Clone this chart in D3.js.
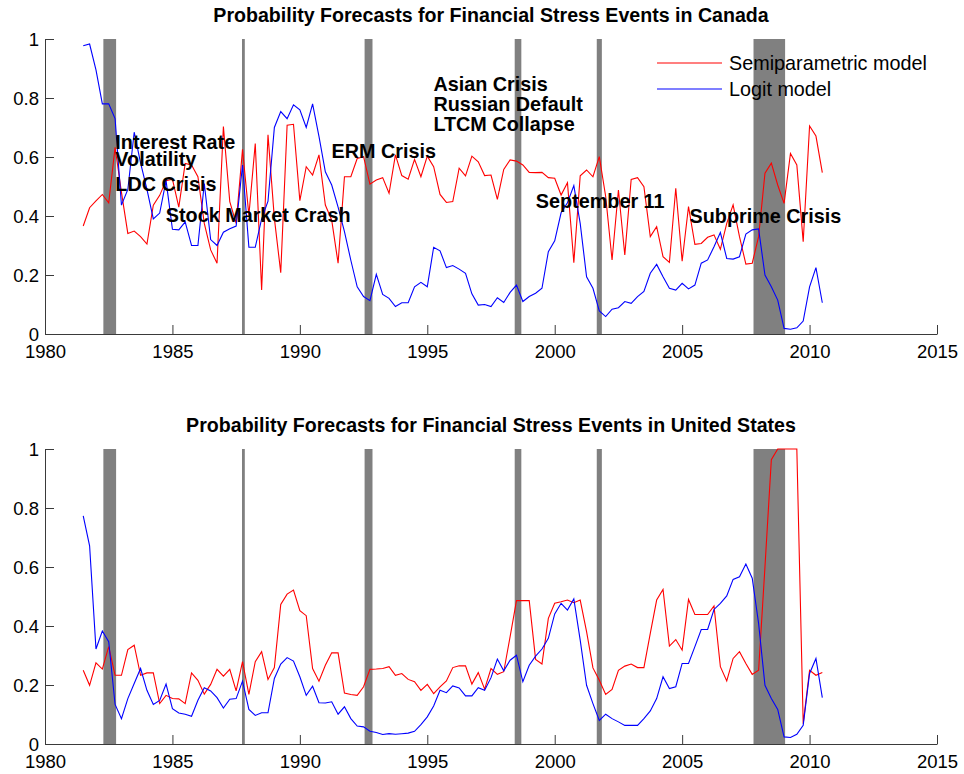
<!DOCTYPE html>
<html>
<head>
<meta charset="utf-8">
<script src="https://cdn.jsdelivr.net/npm/d3@7"></script>
<style>
  html, body { margin: 0; padding: 0; background: #fff; }
  svg { display: block; font-family: "Liberation Sans", Arial, Helvetica, sans-serif; }
</style>
</head>
<body>
<svg id="chart" width="964" height="774"></svg>
<script>
// ---------------- DATA ----------------
const startYear = 1981.5;           // first quarterly observation
const quarterStep = 0.25;

// Canada
const canadaSemiparametric = [
  0.366, 0.428, 0.451, 0.473, 0.445, 0.633, 0.48, 0.341, 0.349, 0.33,
  0.305, 0.437, 0.47, 0.52, 0.525, 0.43, 0.578, 0.573, 0.533, 0.375,
  0.285, 0.24, 0.703, 0.449, 0.375, 0.626, 0.403, 0.646, 0.149, 0.675,
  0.392, 0.208, 0.708, 0.711, 0.452, 0.567, 0.539, 0.607, 0.437, 0.386,
  0.24, 0.533, 0.533, 0.595,
  0.601, 0.508, 0.522, 0.53, 0.477, 0.607, 0.537, 0.525, 0.592, 0.533,
  0.603, 0.567, 0.473, 0.446, 0.449, 0.562, 0.536, 0.603, 0.584, 0.537,
  0.539, 0.456, 0.558, 0.59, 0.586, 0.573, 0.548, 0.547, 0.548, 0.53,
  0.528, 0.471, 0.513, 0.242, 0.536, 0.556, 0.533, 0.601, 0.466, 0.251,
  0.488,
  0.268, 0.524, 0.53, 0.499, 0.33, 0.364, 0.262, 0.243, 0.494, 0.247,
  0.432, 0.304, 0.307, 0.328, 0.336, 0.287, 0.375, 0.438, 0.33, 0.237,
  0.24, 0.33, 0.545, 0.579, 0.505, 0.443, 0.612, 0.573, 0.313, 0.705,
  0.671, 0.547
];
const canadaLogit = [
  0.977, 0.983, 0.895, 0.78, 0.78, 0.73, 0.437, 0.49, 0.684, 0.58,
  0.49, 0.39, 0.41, 0.52, 0.355, 0.353, 0.38, 0.30, 0.30, 0.51,
  0.32, 0.30, 0.345, 0.357, 0.366, 0.573, 0.294, 0.294, 0.39, 0.45,
  0.70, 0.754, 0.73, 0.777, 0.76, 0.70, 0.78, 0.67, 0.55, 0.505,
  0.43, 0.347, 0.25, 0.16,
  0.127, 0.113, 0.202, 0.134, 0.121, 0.093, 0.106, 0.106, 0.16, 0.175,
  0.16, 0.294, 0.282, 0.225, 0.232, 0.22, 0.206, 0.136, 0.098, 0.10,
  0.093, 0.123, 0.107, 0.141, 0.166, 0.11, 0.127, 0.138, 0.155, 0.279,
  0.316, 0.411, 0.445, 0.503, 0.375, 0.194, 0.155, 0.078, 0.059, 0.084,
  0.089,
  0.11, 0.104, 0.127, 0.144, 0.206, 0.236, 0.194, 0.155, 0.149, 0.172,
  0.153, 0.166, 0.24, 0.251, 0.296, 0.344, 0.256, 0.254, 0.262, 0.339,
  0.353, 0.356, 0.20, 0.16, 0.115, 0.019, 0.016, 0.021, 0.044, 0.16,
  0.225, 0.106
];

// United States
const usSemiparametric = [
  0.25, 0.199, 0.275, 0.254, 0.33, 0.233, 0.233, 0.32, 0.335, 0.233,
  0.241, 0.241, 0.137, 0.165, 0.154, 0.153, 0.137, 0.241, 0.216, 0.169,
  0.202, 0.253, 0.23, 0.253, 0.18, 0.279, 0.168, 0.279, 0.313, 0.219,
  0.259, 0.473, 0.508, 0.522, 0.452, 0.435, 0.256, 0.213, 0.267, 0.309,
  0.309, 0.173, 0.168, 0.165,
  0.194, 0.253, 0.254, 0.256, 0.262, 0.233, 0.239, 0.219, 0.211, 0.182,
  0.202, 0.171, 0.194, 0.214, 0.259, 0.265, 0.265, 0.203, 0.242, 0.186,
  0.256, 0.236, 0.245, 0.364, 0.486, 0.486, 0.486, 0.287, 0.271, 0.426,
  0.477, 0.482, 0.488, 0.479, 0.488, 0.381, 0.258, 0.216, 0.168, 0.185,
  0.25,
  0.264, 0.271, 0.259, 0.259, 0.375, 0.488, 0.524, 0.332, 0.354, 0.318,
  0.49, 0.439, 0.439, 0.439, 0.468, 0.262, 0.214, 0.29, 0.313, 0.273,
  0.236, 0.25, 0.601, 0.964, 1.0, 1.0, 1.0, 1.0, 0.069, 0.25,
  0.233, 0.242
];
const usLogit = [
  0.773, 0.672, 0.322, 0.383, 0.347, 0.134, 0.086, 0.154, 0.205, 0.256,
  0.182, 0.134, 0.148, 0.203, 0.12, 0.105, 0.101, 0.094, 0.148, 0.191,
  0.18, 0.157, 0.122, 0.152, 0.154, 0.213, 0.117, 0.097, 0.106, 0.106,
  0.222, 0.271, 0.293, 0.281, 0.228, 0.165, 0.196, 0.14, 0.139, 0.143,
  0.101, 0.126, 0.086, 0.061,
  0.058, 0.043, 0.039, 0.032, 0.035, 0.033, 0.035, 0.037, 0.043, 0.066,
  0.092, 0.129, 0.182, 0.174, 0.197, 0.19, 0.163, 0.163, 0.191, 0.182,
  0.225, 0.288, 0.248, 0.284, 0.301, 0.211, 0.267, 0.298, 0.322, 0.358,
  0.441, 0.477, 0.454, 0.492, 0.352, 0.199, 0.137, 0.08, 0.101, 0.086,
  0.075,
  0.063, 0.063, 0.063, 0.086, 0.112, 0.154, 0.228, 0.188, 0.194, 0.273,
  0.273, 0.33, 0.388, 0.388, 0.456, 0.477, 0.502, 0.558, 0.567, 0.61,
  0.562, 0.409, 0.199, 0.154, 0.117, 0.024, 0.022, 0.033, 0.063, 0.239,
  0.29, 0.157
];

// Crisis periods (shaded bars): start / end in fractional years
const crisisStart = [1982.29, 1987.73, 1992.54, 1998.43, 2001.65, 2007.8];
const crisisEnd   = [1982.79, 1987.84, 1992.85, 1998.69, 2001.85, 2009.04];

// Annotations (Canada panel): text lines, anchor year, anchor value (baseline)
const annotationText  = ["Interest Rate", "Volatility", "LDC Crisis", "Stock Market Crash",
                         "ERM Crisis", "Asian Crisis", "Russian Default", "LTCM Collapse",
                         "September 11", "Subprime Crisis"];
const annotationYear  = [1982.76, 1982.76, 1982.76, 1984.74, 1991.24, 1995.24, 1995.24, 1995.24, 1999.26, 2005.29];
const annotationValue = [0.626, 0.57, 0.486, 0.38, 0.598, 0.825, 0.757, 0.688, 0.427, 0.377];

const xTicks = [1980, 1985, 1990, 1995, 2000, 2005, 2010, 2015];
const yTicks = [0, 0.2, 0.4, 0.6, 0.8, 1];
const seriesNames = ["Semiparametric model", "Logit model"];
const seriesColors = ["#ff0000", "#0000ff"];
const panelTitles = ["Probability Forecasts for Financial Stress Events in Canada",
                     "Probability Forecasts for Financial Stress Events in United States"];

// ---------------- DRAW ----------------
const svg = d3.select("#chart");
const x = d3.scaleLinear().domain([1980, 2015]).range([45, 937]);
const dates = canadaLogit.map((_, i) => startYear + i * quarterStep);

const panels = [
  { title: panelTitles[0], semi: canadaSemiparametric, logit: canadaLogit, top: 39, bottom: 334, titleY: 22, annotate: true, legend: true },
  { title: panelTitles[1], semi: usSemiparametric, logit: usLogit, top: 449, bottom: 744, titleY: 432, annotate: false, legend: false }
];

const axisColor = "#3a3a3a";
const tickFont = 18.5;

panels.forEach(p => {
  const y = d3.scaleLinear().domain([0, 1]).range([p.bottom, p.top]);
  const g = svg.append("g");

  // crisis bars
  g.selectAll("rect.crisis").data(crisisStart).join("rect")
    .attr("class", "crisis")
    .attr("x", (d) => x(d))
    .attr("width", (d, i) => x(crisisEnd[i]) - x(d))
    .attr("y", y(1))
    .attr("height", y(0) - y(1))
    .attr("fill", "#808080");

  // lines
  const line = d3.line().x((d, i) => x(dates[i])).y(d => y(d));
  [p.semi, p.logit].forEach((s, k) => {
    g.append("path").datum(s)
      .attr("d", line)
      .attr("fill", "none")
      .attr("stroke", seriesColors[k])
      .attr("stroke-width", 1.1)
      .attr("stroke-linejoin", "miter");
  });

  // x axis
  const xAxis = d3.axisBottom(x).tickValues(xTicks).tickFormat(d3.format("d")).tickSizeInner(-9).tickSizeOuter(0).tickPadding(0);
  const gx = g.append("g").attr("transform", `translate(0,${p.bottom})`).call(xAxis);
  gx.select(".domain").attr("stroke", axisColor).attr("stroke-width", 1);
  gx.selectAll(".tick line").attr("stroke", axisColor);
  gx.selectAll(".tick text").attr("y", 24).attr("dy", 0)
    .attr("font-size", tickFont).attr("fill", "#000")
    .attr("font-family", '"Liberation Sans", Arial, sans-serif');

  // y axis
  const yAxis = d3.axisLeft(y).tickValues(yTicks).tickFormat(d => d3.format("~g")(d)).tickSizeInner(-9).tickSizeOuter(0).tickPadding(0);
  const gy = g.append("g").attr("transform", `translate(${x(1980)},0)`).call(yAxis);
  gy.select(".domain").attr("stroke", axisColor).attr("stroke-width", 1);
  gy.selectAll(".tick line").attr("stroke", axisColor);
  gy.selectAll(".tick text").attr("x", -6).attr("dy", "0.36em")
    .attr("font-size", tickFont).attr("fill", "#000")
    .attr("font-family", '"Liberation Sans", Arial, sans-serif');

  // title
  g.append("text")
    .attr("x", (x(1980) + x(2015)) / 2)
    .attr("y", p.titleY)
    .attr("text-anchor", "middle")
    .attr("font-weight", "bold")
    .attr("font-size", 19.6)
    .text(p.title);

  if (p.annotate) {
    g.selectAll("text.ann").data(annotationText).join("text")
      .attr("class", "ann")
      .attr("x", (d, i) => x(annotationYear[i]))
      .attr("y", (d, i) => y(annotationValue[i]))
      .attr("font-weight", "bold")
      .attr("font-size", 19.8)
      .attr("fill", "#000")
      .text(d => d);
  }

  if (p.legend) {
    const lg = g.append("g");
    seriesNames.forEach((name, k) => {
      const ly = 63 + k * 26;
      lg.append("line").attr("x1", 657).attr("x2", 722).attr("y1", ly).attr("y2", ly)
        .attr("stroke", seriesColors[k]).attr("stroke-width", 1.1);
      lg.append("text").attr("x", 729).attr("y", ly).attr("dy", "0.35em")
        .attr("font-size", 19.8).attr("fill", "#000").text(name);
    });
  }
});
</script>
</body>
</html>
